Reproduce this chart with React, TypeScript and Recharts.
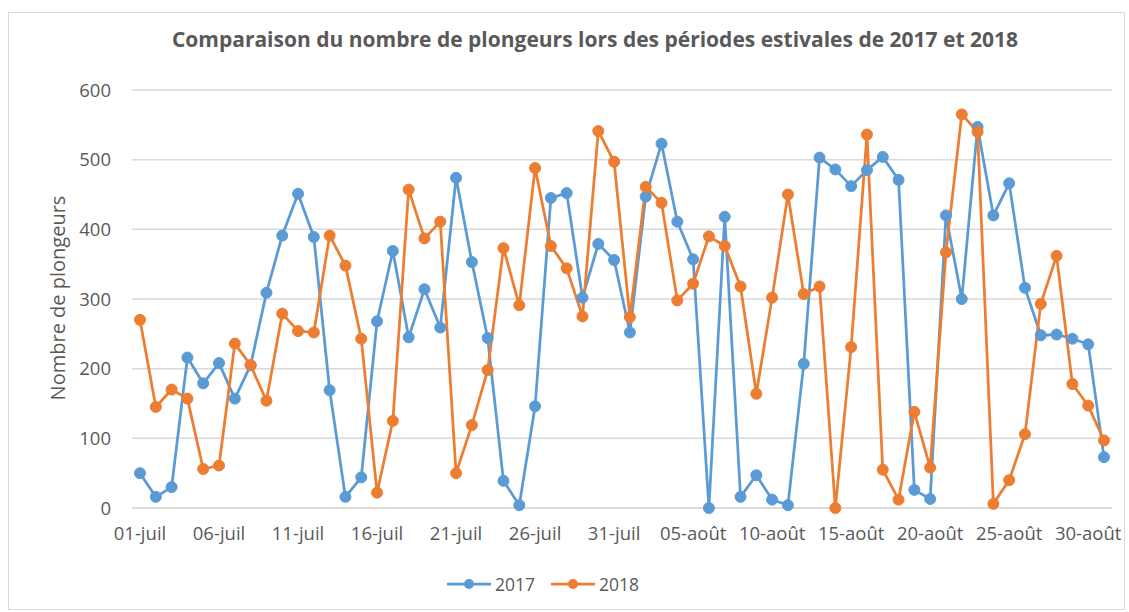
import React from "react";
import { LineChart, Line, XAxis, YAxis, CartesianGrid } from "recharts";

// jours du 01-juil au 31-août
const jours = [
  "01-juil", "02-juil", "03-juil", "04-juil", "05-juil", "06-juil", "07-juil", "08-juil", "09-juil", "10-juil",
  "11-juil", "12-juil", "13-juil", "14-juil", "15-juil", "16-juil", "17-juil", "18-juil", "19-juil", "20-juil",
  "21-juil", "22-juil", "23-juil", "24-juil", "25-juil", "26-juil", "27-juil", "28-juil", "29-juil", "30-juil",
  "31-juil", "01-août", "02-août", "03-août", "04-août", "05-août", "06-août", "07-août", "08-août", "09-août",
  "10-août", "11-août", "12-août", "13-août", "14-août", "15-août", "16-août", "17-août", "18-août", "19-août",
  "20-août", "21-août", "22-août", "23-août", "24-août", "25-août", "26-août", "27-août", "28-août", "29-août",
  "30-août", "31-août",
];

const plongeurs2017 = [
  50, 16, 30, 216, 179, 208, 157, 205, 309, 391,
  451, 389, 169, 16, 44, 268, 369, 245, 314, 259,
  474, 353, 244, 39, 4, 146, 445, 452, 302, 379,
  356, 252, 447, 523, 411, 357, 0, 418, 16, 47,
  12, 4, 207, 503, 486, 462, 485, 504, 471, 26,
  13, 420, 300, 547, 420, 466, 316, 248, 249, 243,
  235, 73,
];

const plongeurs2018 = [
  270, 145, 170, 157, 56, 61, 236, 205, 154, 279,
  254, 252, 391, 348, 243, 22, 125, 457, 387, 411,
  50, 119, 198, 373, 291, 488, 376, 344, 275, 541,
  497, 274, 461, 438, 298, 322, 390, 376, 318, 164,
  302, 450, 307, 318, 0, 231, 536, 55, 12, 138,
  58, 367, 565, 540, 6, 40, 106, 293, 362, 178,
  147, 97,
];

const yTicks = [0, 100, 200, 300, 400, 500, 600];

const data = jours.map((jour, i) => ({
  jour,
  y2017: plongeurs2017[i],
  y2018: plongeurs2018[i],
}));

const BLUE = "#5B9BD5";
const ORANGE = "#ED7D31";
const TEXT = "#595959";
const GRID = "#D9D9D9";
const FONT = "'Open Sans', sans-serif";

function LegendItem({ color, label }) {
  return (
    <div style={{ display: "flex", alignItems: "center", gap: 4 }}>
      <svg width={44} height={14}>
        <line x1={0} y1={7} x2={44} y2={7} stroke={color} strokeWidth={2.75} />
        <circle cx={22} cy={7} r={5} fill={color} />
      </svg>
      <span>{label}</span>
    </div>
  );
}

export default function App() {
  return (
    <div style={{ position: "absolute", left: 0, top: 0, width: 1129, height: 612, background: "#fff", fontFamily: FONT }}>
      <div style={{ position: "absolute", left: 8, top: 12, width: 1115, height: 596, border: `1px solid ${GRID}` }} />
      <div style={{ position: "absolute", left: 0, width: 1190, top: 25, textAlign: "center", fontSize: 21, fontWeight: 700, color: TEXT }}>
        Comparaison du nombre de plongeurs lors des périodes estivales de 2017 et 2018
      </div>
      <div
        style={{
          position: "absolute", left: 57, top: 298, transform: "translate(-50%, -50%) rotate(-90deg)",
          whiteSpace: "nowrap", fontSize: 20, color: TEXT,
        }}
      >
        Nombre de plongeurs
      </div>
      <div style={{ position: "absolute", left: 0, top: 0 }}>
        <LineChart width={1129} height={612} data={data} margin={{ top: 90, right: 17, left: 72, bottom: 74 }}>
          <CartesianGrid vertical={false} stroke={GRID} strokeWidth={1.5} />
          <XAxis
            dataKey="jour"
            interval={4}
            padding={{ left: 8, right: 8 }}
            tickSize={0}
            tickMargin={19}
            height={30}
            axisLine={{ stroke: GRID, strokeWidth: 1.5 }}
            tick={{ fill: TEXT, fontSize: 18.5, fontFamily: FONT }}
          />
          <YAxis
            domain={[0, 600]}
            ticks={yTicks}
            width={60}
            tickSize={0}
            tickMargin={21}
            axisLine={false}
            tickLine={false}
            tick={{ fill: TEXT, fontSize: 18.5, fontFamily: FONT }}
          />
          <Line
            dataKey="y2017"
            stroke={BLUE}
            strokeWidth={2.75}
            dot={{ r: 5.5, fill: BLUE, stroke: BLUE, strokeWidth: 1 }}
            isAnimationActive={false}
          />
          <Line
            dataKey="y2018"
            stroke={ORANGE}
            strokeWidth={2.75}
            dot={{ r: 5.5, fill: ORANGE, stroke: ORANGE, strokeWidth: 1 }}
            isAnimationActive={false}
          />
        </LineChart>
      </div>
      <div
        style={{
          position: "absolute", left: 447, top: 572, display: "flex", gap: 16,
          fontSize: 17.5, color: TEXT,
        }}
      >
        <LegendItem color={BLUE} label="2017" />
        <LegendItem color={ORANGE} label="2018" />
      </div>
    </div>
  );
}
